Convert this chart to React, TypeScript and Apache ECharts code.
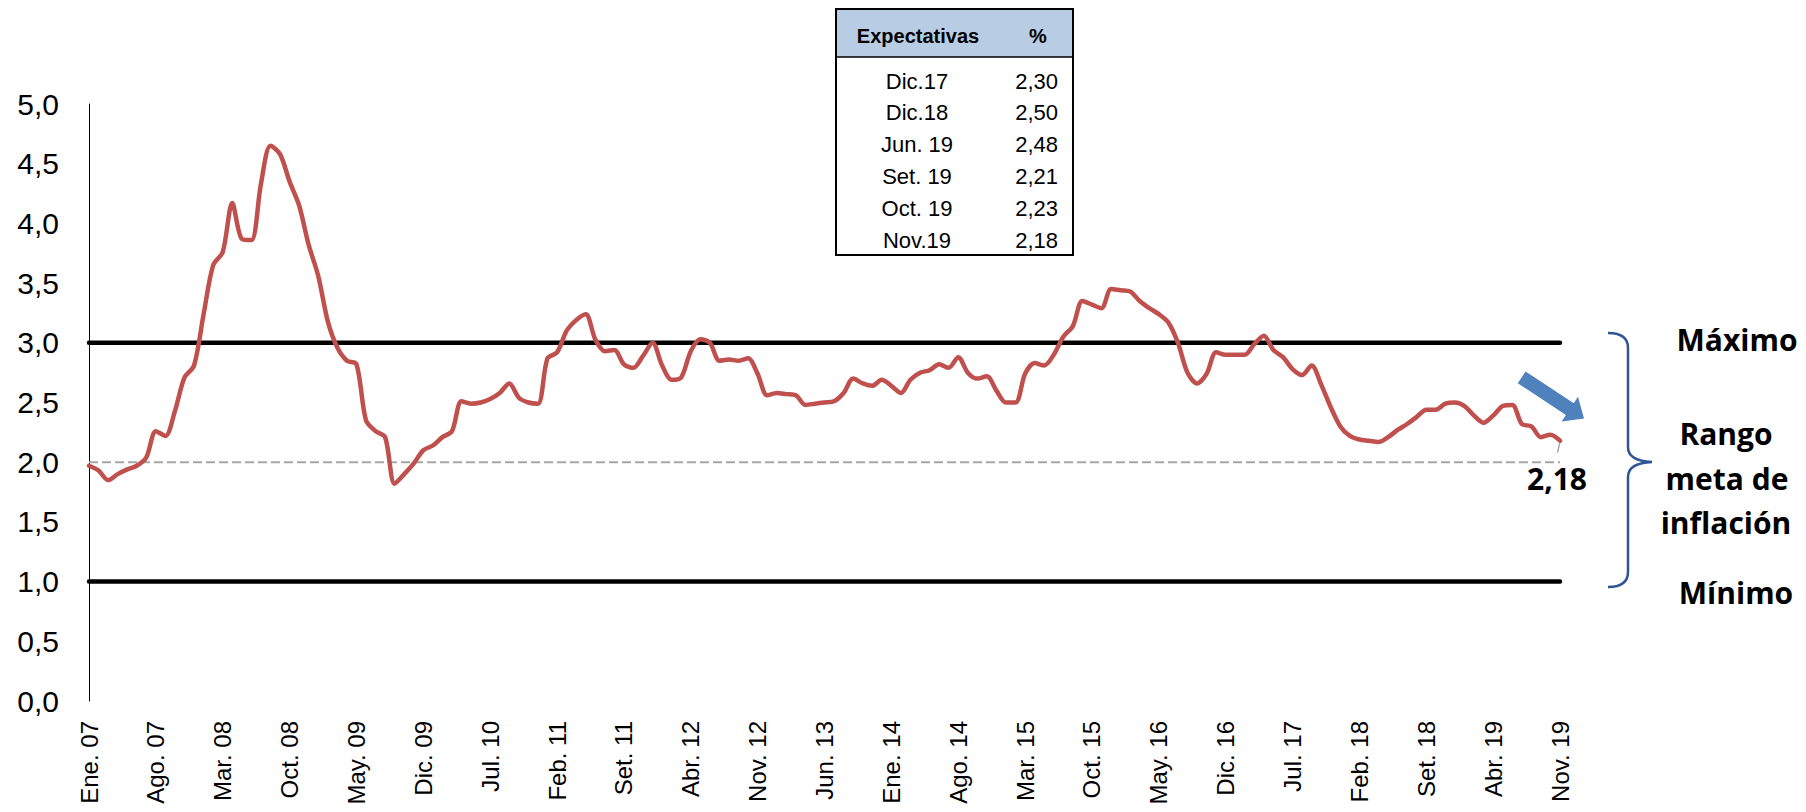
import React, { useEffect, useRef } from "react";
import * as echarts from "echarts";

// ---------- DATA ----------
const monthAbbr = ["Ene.", "Feb.", "Mar.", "Abr.", "May.", "Jun.", "Jul.", "Ago.", "Set.", "Oct.", "Nov.", "Dic."];
const years = ["07", "08", "09", "10", "11", "12", "13", "14", "15", "16", "17", "18", "19"];
const monthsInLastYear = 11;

const infl2007 = [1.97, 1.93, 1.85, 1.9, 1.94, 1.97, 2.04, 2.26, 2.22, 2.43, 2.71, 2.81];
const infl2008 = [3.24, 3.65, 3.76, 4.17, 3.87, 3.86, 4.33, 4.65, 4.58, 4.35, 4.15, 3.82];
const infl2009 = [3.56, 3.18, 2.96, 2.85, 2.82, 2.35, 2.26, 2.21, 1.82, 1.9, 1.99, 2.1];
const infl2010 = [2.14, 2.21, 2.26, 2.51, 2.49, 2.5, 2.53, 2.58, 2.66, 2.54, 2.5, 2.49];
const infl2011 = [2.87, 2.92, 3.1, 3.19, 3.24, 3.03, 2.93, 2.94, 2.82, 2.79, 2.89, 3.0];
const infl2012 = [2.81, 2.69, 2.71, 2.93, 3.03, 3.0, 2.85, 2.86, 2.85, 2.87, 2.74, 2.56];
const infl2013 = [2.58, 2.57, 2.56, 2.48, 2.49, 2.5, 2.51, 2.58, 2.7, 2.66, 2.64, 2.69];
const infl2014 = [2.64, 2.58, 2.69, 2.75, 2.77, 2.82, 2.79, 2.88, 2.75, 2.7, 2.72, 2.6];
const infl2015 = [2.5, 2.5, 2.74, 2.83, 2.81, 2.9, 3.05, 3.14, 3.35, 3.32, 3.29, 3.45];
const infl2016 = [3.44, 3.43, 3.35, 3.29, 3.24, 3.17, 3.0, 2.75, 2.66, 2.74, 2.92, 2.9];
const infl2017 = [2.9, 2.9, 2.99, 3.06, 2.94, 2.88, 2.78, 2.73, 2.81, 2.65, 2.46, 2.3];
const infl2018 = [2.22, 2.19, 2.18, 2.17, 2.21, 2.27, 2.32, 2.38, 2.44, 2.44, 2.49, 2.5];
const infl2019 = [2.47, 2.39, 2.33, 2.39, 2.47, 2.48, 2.32, 2.3, 2.21, 2.23, 2.18];

const targetMax = 3.0;
const targetMin = 1.0;
const targetMid = 2.0;

const tableHeader = ["Expectativas", "%"];
const tableLabels = ["Dic.17", "Dic.18", "Jun. 19", "Set. 19", "Oct. 19", "Nov.19"];
const tableValues = ["2,30", "2,50", "2,48", "2,21", "2,23", "2,18"];

const rightLabels = { max: "Máximo", range: ["Rango", "meta de", "inflación"], min: "Mínimo" };

// ---------- BUILD ----------
const categories: string[] = [];
years.forEach((y, yi) => {
  const n = yi === years.length - 1 ? monthsInLastYear : 12;
  for (let m = 0; m < n; m++) categories.push(`${monthAbbr[m]} ${y}`);
});
const inflation = [
  ...infl2007, ...infl2008, ...infl2009, ...infl2010, ...infl2011, ...infl2012, ...infl2013,
  ...infl2014, ...infl2015, ...infl2016, ...infl2017, ...infl2018, ...infl2019,
];
const fmt = (v: number, d: number) => v.toFixed(d).replace(".", ",");

let braceRegistered = false;
function registerBrace() {
  if (braceRegistered) return;
  const d =
    "M1608,333 Q1628,333 1628,348 L1628,447 Q1628,461 1652,462 Q1628,463 1628,477 L1628,572 Q1628,587 1608,587";
  echarts.graphic.registerShape("brace", echarts.graphic.extendPath(d, {}));
  braceRegistered = true;
}

function arrowPoints(tail: number[], tip: number[], bodyHalf: number, headHalf: number, headLen: number) {
  const dx = tip[0] - tail[0];
  const dy = tip[1] - tail[1];
  const len = Math.hypot(dx, dy);
  const u = [dx / len, dy / len];
  const n = [-u[1], u[0]];
  const h = [tip[0] - headLen * u[0], tip[1] - headLen * u[1]];
  const p = (b: number[], k: number) => [b[0] + k * n[0], b[1] + k * n[1]];
  return [p(tail, -bodyHalf), p(h, -bodyHalf), p(h, -headHalf), tip, p(h, headHalf), p(h, bodyHalf), p(tail, bodyHalf)];
}

export default function App() {
  const ref = useRef<HTMLDivElement>(null);

  useEffect(() => {
    if (!ref.current) return;
    registerBrace();
    const chart = echarts.init(ref.current, undefined, { renderer: "svg" });
    const lastIdx = inflation.length - 1;

    const seriesData = inflation.map((v, i) =>
      i === lastIdx
        ? {
            value: v,
            symbol: "circle",
            symbolSize: 1,
            itemStyle: { color: "rgba(0,0,0,0)" },
            label: {
              show: true,
              position: "bottom",
              distance: 22,
              offset: [-3, 0],
              formatter: () => fmt(v, 2),
              fontSize: 30,
              fontWeight: "bold",
              fontFamily: "Open Sans",
              color: "#000",
            },
          }
        : v
    );

    const option: any = {
      animation: false,
      backgroundColor: "#ffffff",
      grid: { left: 89, right: 246, top: 104, bottom: 111, containLabel: false, outerBoundsMode: "none" },
      xAxis: {
        type: "category",
        data: categories,
        boundaryGap: false,
        axisLine: { show: false },
        axisTick: { show: false },
        splitLine: { show: false },
        axisLabel: {
          interval: 6,
          rotate: 90,
          fontSize: 24,
          color: "#000",
          fontFamily: "Liberation Sans",
          margin: 20,
        },
      },
      yAxis: {
        type: "value",
        min: 0,
        max: 5,
        interval: 0.5,
        axisLine: { show: true, lineStyle: { color: "#000", width: 1 } },
        axisTick: { show: false },
        splitLine: { show: false },
        axisLabel: {
          fontSize: 30,
          color: "#000",
          fontFamily: "Liberation Sans",
          margin: 30,
          formatter: (v: number) => fmt(v, 1),
        },
      },
      series: [
        {
          type: "line",
          data: categories.map(() => targetMid),
          symbol: "none",
          silent: true,
          lineStyle: { color: "#A6A6A6", width: 2, type: [9, 4] },
        },
        {
          type: "line",
          data: categories.map(() => targetMax),
          symbol: "none",
          silent: true,
          lineStyle: { color: "#000", width: 4.5, cap: "round" },
        },
        {
          type: "line",
          data: categories.map(() => targetMin),
          symbol: "none",
          silent: true,
          lineStyle: { color: "#000", width: 4.5, cap: "round" },
        },
        {
          type: "line",
          data: seriesData,
          symbol: "none",
          smooth: 0.3,
          silent: true,
          lineStyle: { color: "#C0504D", width: 4.5, cap: "round", join: "round" },
        },
      ],
    };
    chart.setOption(option);

    const pt = chart.convertToPixel({ gridIndex: 0 }, [lastIdx, inflation[lastIdx]]) as number[];

    const tblX = 836, tblY = 9, tblW = 237, tblH = 246, hdrH = 48;
    const rowY = [81, 112, 144, 176, 208, 240];
    const graphic: any[] = [
      { type: "rect", shape: { x: tblX, y: tblY, width: tblW, height: hdrH }, style: { fill: "#B8CCE4" } },
      { type: "line", shape: { x1: tblX, y1: tblY + hdrH, x2: tblX + tblW, y2: tblY + hdrH }, style: { stroke: "#000", lineWidth: 1.5 } },
      { type: "rect", shape: { x: tblX, y: tblY, width: tblW, height: tblH }, style: { fill: "none", stroke: "#000", lineWidth: 2 } },
      {
        type: "text", x: 918, y: 36,
        style: { text: tableHeader[0], fontSize: 20, fontWeight: "bold", fontFamily: "Liberation Sans", fill: "#000", align: "center", verticalAlign: "middle" },
      },
      {
        type: "text", x: 1038, y: 36,
        style: { text: tableHeader[1], fontSize: 20, fontWeight: "bold", fontFamily: "Liberation Sans", fill: "#000", align: "center", verticalAlign: "middle" },
      },
    ];
    tableLabels.forEach((lab, i) => {
      graphic.push({
        type: "text", x: 917, y: rowY[i],
        style: { text: lab, fontSize: 22, fontFamily: "Liberation Sans", fill: "#000", align: "center", verticalAlign: "middle" },
      });
      graphic.push({
        type: "text", x: 1058, y: rowY[i],
        style: { text: tableValues[i], fontSize: 22, fontFamily: "Liberation Sans", fill: "#000", align: "right", verticalAlign: "middle" },
      });
    });

    // leader line for the last value label
    graphic.push({
      type: "line",
      shape: { x1: pt[0], y1: pt[1] + 1, x2: pt[0] - 2.5, y2: pt[1] + 12 },
      style: { stroke: "#A6A6A6", lineWidth: 1.5 },
    });

    // blue trend arrow
    graphic.push({
      type: "polygon",
      shape: { points: arrowPoints([1521.7, 377.3], [1584, 418.6], 7.1, 14.8, 17) },
      style: { fill: "#4F81BD" },
    });

    // brace
    graphic.push({
      type: "brace", x: 0, y: 0,
      style: { fill: "none", stroke: "#2F5597", lineWidth: 2.5 },
    });

    const txt = (t: string, x: number, y: number) => ({
      type: "text", x, y,
      style: { text: t, fontSize: 30, fontWeight: "bold", fontFamily: "Open Sans", fill: "#000", align: "center", verticalAlign: "middle" },
    });
    graphic.push(txt(rightLabels.max, 1737, 339));
    graphic.push(txt(rightLabels.range[0], 1726, 433));
    graphic.push(txt(rightLabels.range[1], 1727, 478));
    graphic.push(txt(rightLabels.range[2], 1726, 522));
    graphic.push(txt(rightLabels.min, 1736, 592));

    chart.setOption({ graphic });

    return () => chart.dispose();
  }, []);

  return (
    <div
      ref={ref}
      style={{ position: "fixed", left: 0, top: 0, width: 1806, height: 812, background: "#fff" }}
    />
  );
}
